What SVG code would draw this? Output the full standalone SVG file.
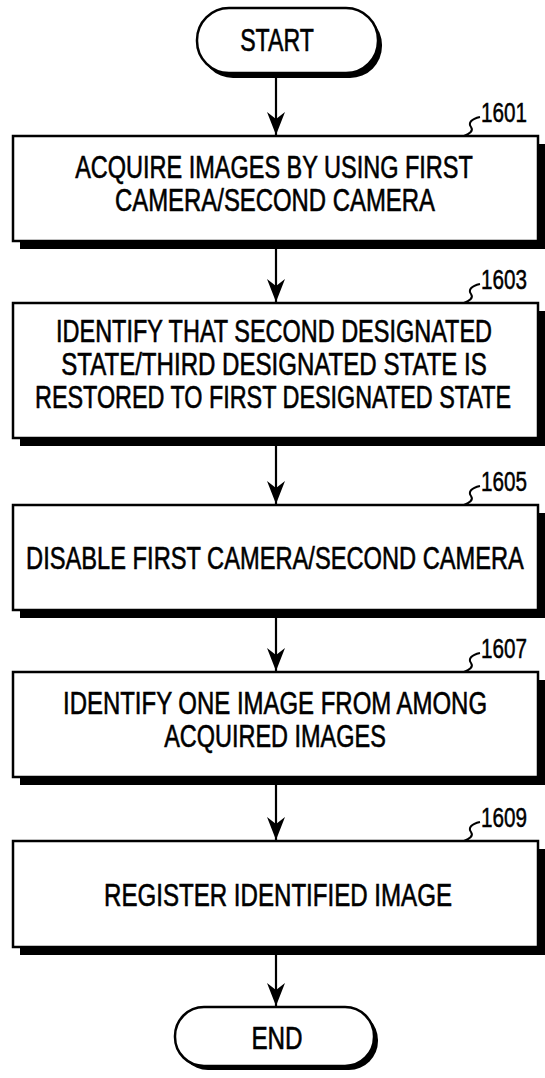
<svg xmlns="http://www.w3.org/2000/svg" width="545" height="1078" viewBox="0 0 545 1078">
<style>
.box{fill:#fff;stroke:#000;stroke-width:2.5}
.sh{fill:#000}
.t{font-family:"Liberation Sans",Arial,sans-serif;font-size:31px;fill:#000;stroke:#000;stroke-width:0.6;text-anchor:middle}
.lbl{font-family:"Liberation Sans",Arial,sans-serif;font-size:28px;fill:#000;stroke:#000;stroke-width:0.5}
.sq{fill:none;stroke:#000;stroke-width:2}
.ln{fill:none;stroke:#000;stroke-width:2.2}
</style>
<defs>
<marker id="ah" markerUnits="userSpaceOnUse" refX="0" refY="0" markerWidth="30" markerHeight="30" orient="auto" overflow="visible">
<path d="M0,0 L-23,-9 L-16,0 L-23,9 Z" fill="#000"/>
</marker>
</defs>
<rect width="545" height="1078" fill="#fff"/>
<g id="start">
<rect class="sh" x="201" y="13" width="181" height="65" rx="32" ry="32"/>
<rect class="box" x="197" y="8" width="181" height="65" rx="32" ry="32"/>
<text class="t" transform="translate(277,51) scale(0.8,1)" textLength="92" lengthAdjust="spacingAndGlyphs">START</text>
</g>
<g id="n1601">
<rect class="sh" x="20" y="144" width="525" height="105"/>
<rect class="box" x="13" y="136" width="525" height="105"/>
<text class="t" transform="translate(274,177.5) scale(0.8,1)" textLength="497" lengthAdjust="spacingAndGlyphs">ACQUIRE IMAGES BY USING FIRST</text>
<text class="t" transform="translate(275,210.5) scale(0.8,1)" textLength="400" lengthAdjust="spacingAndGlyphs">CAMERA/SECOND CAMERA</text>
<path class="sq" d="M464,136 C469,134 474,131 471,127 C468,123 471,119 480,117"/>
<text class="lbl" x="481" y="122" textLength="46" lengthAdjust="spacingAndGlyphs">1601</text>
</g>
<g id="n1603">
<rect class="sh" x="20" y="311" width="525" height="135"/>
<rect class="box" x="13" y="303" width="525" height="135"/>
<text class="t" transform="translate(274,341.5) scale(0.8,1)" textLength="545" lengthAdjust="spacingAndGlyphs">IDENTIFY THAT SECOND DESIGNATED</text>
<text class="t" transform="translate(274,374.5) scale(0.8,1)" textLength="532" lengthAdjust="spacingAndGlyphs">STATE/THIRD DESIGNATED STATE IS</text>
<text class="t" transform="translate(273,407.5) scale(0.8,1)" textLength="595" lengthAdjust="spacingAndGlyphs">RESTORED TO FIRST DESIGNATED STATE</text>
<path class="sq" d="M464,303 C469,301 474,298 471,294 C468,290 471,286 480,284"/>
<text class="lbl" x="481" y="289" textLength="46" lengthAdjust="spacingAndGlyphs">1603</text>
</g>
<g id="n1605">
<rect class="sh" x="20" y="513" width="525" height="105"/>
<rect class="box" x="13" y="505" width="525" height="105"/>
<text class="t" transform="translate(275,569) scale(0.76,1)" textLength="655" lengthAdjust="spacingAndGlyphs">DISABLE FIRST CAMERA/SECOND CAMERA</text>
<path class="sq" d="M464,505 C469,503 474,500 471,496 C468,492 471,488 480,486"/>
<text class="lbl" x="481" y="491" textLength="46" lengthAdjust="spacingAndGlyphs">1605</text>
</g>
<g id="n1607">
<rect class="sh" x="20" y="680" width="525" height="105"/>
<rect class="box" x="13" y="672" width="525" height="105"/>
<text class="t" transform="translate(275,713.5) scale(0.8,1)" textLength="530" lengthAdjust="spacingAndGlyphs">IDENTIFY ONE IMAGE FROM AMONG</text>
<text class="t" transform="translate(275,746.5) scale(0.8,1)" textLength="277" lengthAdjust="spacingAndGlyphs">ACQUIRED IMAGES</text>
<path class="sq" d="M464,672 C469,670 474,667 471,663 C468,659 471,655 480,653"/>
<text class="lbl" x="481" y="658" textLength="46" lengthAdjust="spacingAndGlyphs">1607</text>
</g>
<g id="n1609">
<rect class="sh" x="20" y="849" width="525" height="106"/>
<rect class="box" x="13" y="841" width="525" height="106"/>
<text class="t" transform="translate(278,906) scale(0.8,1)" textLength="435" lengthAdjust="spacingAndGlyphs">REGISTER IDENTIFIED IMAGE</text>
<path class="sq" d="M464,841 C469,839 474,836 471,832 C468,828 471,824 480,822"/>
<text class="lbl" x="481" y="827" textLength="46" lengthAdjust="spacingAndGlyphs">1609</text>
</g>
<g id="end">
<rect class="sh" x="179" y="1011" width="199" height="59" rx="29" ry="29"/>
<rect class="box" x="175" y="1007" width="199" height="59" rx="29" ry="29"/>
<text class="t" transform="translate(277,1048.5) scale(0.8,1)" textLength="64" lengthAdjust="spacingAndGlyphs">END</text>
</g>
<g id="connectors">
<path class="ln" d="M276,74 V135" marker-end="url(#ah)"/>
<path class="ln" d="M276,249 V302" marker-end="url(#ah)"/>
<path class="ln" d="M276,446 V504" marker-end="url(#ah)"/>
<path class="ln" d="M276,618 V671" marker-end="url(#ah)"/>
<path class="ln" d="M276,785 V840" marker-end="url(#ah)"/>
<path class="ln" d="M276,955 V1006" marker-end="url(#ah)"/>
</g>
</svg>
